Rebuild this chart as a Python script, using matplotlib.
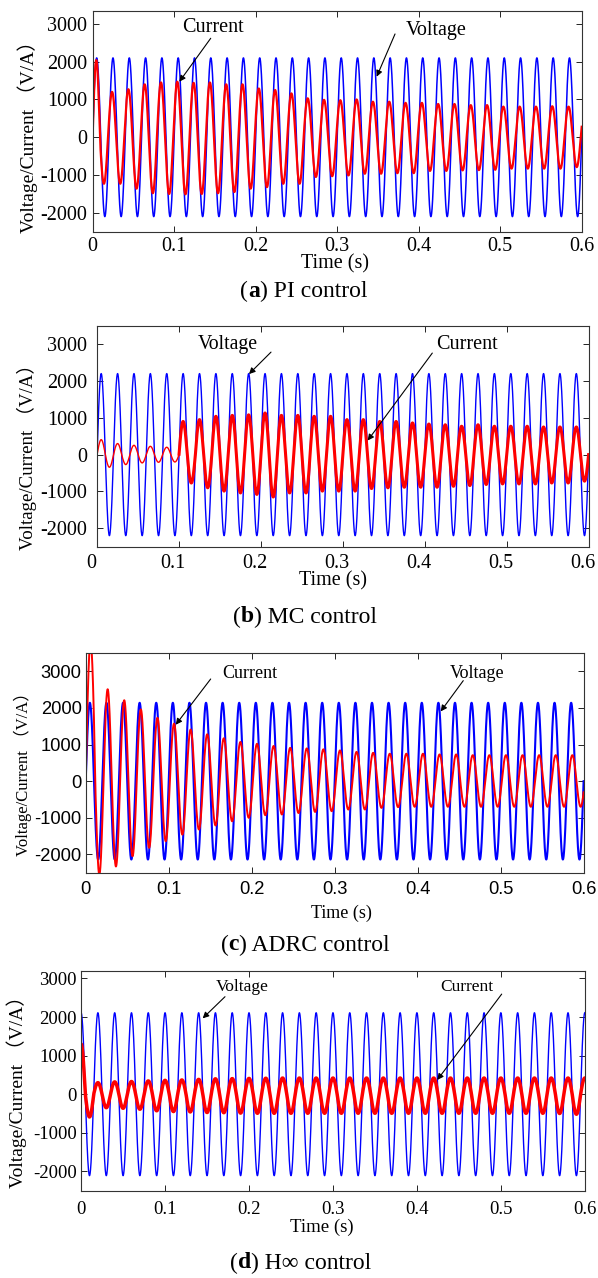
import numpy as np
import matplotlib
matplotlib.use("Agg")
import matplotlib.pyplot as plt
from matplotlib.transforms import ScaledTranslation

plt.rcParams["axes.unicode_minus"] = False

SERIF = ["Liberation Serif", "DejaVu Serif"]
SANS = ["Liberation Sans", "DejaVu Sans"]
LABEL_FONT = ["Liberation Serif", "Noto Sans CJK SC", "DejaVu Serif"]

FREQ = 50.0
T_END = 0.6
x_ticks = [0, 0.1, 0.2, 0.3, 0.4, 0.5, 0.6]
x_tick_labels = ["0", "0.1", "0.2", "0.3", "0.4", "0.5", "0.6"]
y_ticks = [-2000, -1000, 0, 1000, 2000, 3000]

# grid voltage amplitude (V) per panel
volt_amp = {"a": 2100, "b": 2200, "c": 2140, "d": 2110}

# current: positive peak / negative trough of each 50 Hz cycle (30 cycles in 0.6 s)
pi_peaks = [2040, 1200, 1270, 1400, 1450, 1470, 1440, 1450, 1400, 1400,
            1290, 1250, 1160, 1030, 990, 980, 1000, 940, 940, 910,
            910, 880, 880, 850, 850, 810, 810, 810, 820, 810]
pi_troughs = [-1230, -1230, -1360, -1480, -1500, -1510, -1500, -1480, -1450, -1360,
              -1320, -1230, -1230, -1050, -1030, -1010, -965, -965, -950, -950,
              -890, -890, -876, -870, -860, -830, -830, -830, -830, -790]

mc_peaks = [406, 300, 253, 225, 200, 900, 950, 1040, 1065, 1080,
            1130, 1065, 1065, 1040, 1040, 950, 950, 900, 900, 860,
            830, 810, 770, 810, 770, 770, 770, 750, 750, 750]
mc_troughs = [-343, -270, -225, -208, -200, -770, -900, -990, -1040, -1080,
              -1150, -1040, -1040, -990, -990, -990, -920, -900, -885, -885,
              -885, -860, -840, -810, -795, -795, -795, -770, -770, -720]

adrc_peaks = [3800, 2510, 2210, 1960, 1730, 1570, 1410, 1280, 1170, 1070,
              1020, 960, 910, 895, 870, 840, 800, 775, 750, 750,
              750, 730, 730, 710, 710, 710, 710, 710, 710, 710]
adrc_troughs = [-2550, -2330, -2050, -1820, -1640, -1460, -1320, -1210, -1095, -1000,
                -930, -910, -870, -840, -820, -775, -775, -730, -710, -700,
                -700, -700, -700, -700, -700, -700, -700, -700, -700, -700]

hinf_peaks = [1300, 300, 320, 330, 345, 360, 370, 385, 400, 405,
              410, 415, 420, 420, 420, 420, 420, 420, 420, 420,
              420, 420, 420, 420, 420, 420, 420, 420, 420, 420]
hinf_troughs = [-590, -350, -365, -390, -430, -450, -460, -475, -480, -490,
                -495, -495, -495, -495, -495, -495, -495, -495, -495, -495,
                -495, -495, -495, -495, -495, -495, -495, -495, -500, -520]

captions = {"a": "PI control", "b": "MC control", "c": "ADRC control", "d": "H\u221e control"}

W, H = 598, 1278
fig = plt.figure(figsize=(W / 100, H / 100), dpi=100)
renderer = fig.canvas.get_renderer()

t = np.linspace(0, T_END, 15001)


def current_wave(peaks, troughs, start, lead):
    theta = 2 * np.pi * FREQ * t + start + lead * np.clip(t / 0.01, 0, 1)
    half = np.floor(theta / np.pi).astype(int)
    k = np.clip(half // 2, 0, len(peaks) - 1)
    amp = np.where(half % 2 == 0, np.take(peaks, k), -np.take(troughs, k))
    return amp * np.sin(theta)


def fig_text(x, y, s, **kw):
    return fig.text(x / W, 1 - y / H, s, **kw)


def caption(xc, yc, letter, rest, size):
    parts = [("(", "normal"), (letter, "bold"), (") " + rest, "normal")]
    items = []
    for s, w in parts:
        tx = fig.text(0, 1 - yc / H, s, fontsize=size, fontweight=w, family=SERIF, va="center")
        items.append((tx, tx.get_window_extent(renderer).width))
    x0 = xc - sum(wd for _, wd in items) / 2
    for tx, wd in items:
        tx.set_x(x0 / W)
        x0 += wd


# layout in pixels: left, top, right, bottom
panels = [
    dict(key="a", box=(92.6, 10.7, 581.7, 231.7), ylim=(-2500, 3350), start=0.0, lead=0.35,
         peaks=pi_peaks, troughs=pi_troughs, vstart=0.0, tickfont=SERIF, ticksize=14.5,
         ylab=(27.4, 132.5, 14), time=(334.9, 264, 14.5), cap=(304, 291),
         cur_lw=1.6, volt_lw=1.1, xshift=0,
         notes=[("Current", (0.148, 2911), (0.1449, 2620), (0.1064, 1470), 14.5),
                ("Voltage", (0.4209, 2821), (0.371, 2734), (0.3485, 1603), 14.5)],
         ypad=4, xpad=3.5),
    dict(key="b", box=(97.1, 325.7, 588.6, 546.7), ylim=(-2500, 3500), start=0.0, lead=0.0,
         peaks=mc_peaks, troughs=mc_troughs, vstart=0.0, tickfont=SERIF, ticksize=14.5,
         ylab=(27.4, 452.5, 13.6), time=(333.3, 581, 14.5), cap=(305, 617),
         cur_lw=2.2, volt_lw=1.0, xshift=-6,
         notes=[("Voltage", (0.1594, 2980), (0.2123, 2783), (0.1854, 2187), 14.2),
                ("Current", (0.4512, 2980), (0.4092, 2757), (0.3303, 382), 14.5)],
         ypad=7, xpad=5.5),
    dict(key="c", box=(85.7, 653, 583.6, 872.7), ylim=(-2500, 3500), start=0.0, lead=-0.45,
         peaks=adrc_peaks, troughs=adrc_troughs, vstart=0.0, tickfont=SANS, ticksize=13.2,
         ylab=(22.9, 770.5, 12), time=(341, 913, 13), cap=(305, 945),
         cur_lw=1.4, volt_lw=1.5, xshift=0,
         notes=[("Current", (0.1976, 2953), (0.1506, 2790), (0.1085, 1541), 13),
                ("Voltage", (0.4719, 2953), (0.455, 2745), (0.4278, 1905), 13)],
         ypad=3, xpad=6),
    dict(key="d", box=(81.1, 970.7, 584.8, 1190.7), ylim=(-2500, 3200), start=np.pi / 2, lead=0.0,
         peaks=hinf_peaks, troughs=hinf_troughs, vstart=np.pi / 2, tickfont=SERIF, ticksize=13.5,
         ylab=(17.1, 1087.5, 14), time=(322, 1227, 13.5), cap=(300.6, 1263),
         cur_lw=2.5, volt_lw=1.0, xshift=0,
         notes=[("Voltage", (0.192, 2767), (0.1714, 2526), (0.1448, 1965), 12.5),
                ("Current", (0.46, 2767), (0.501, 2594), (0.4243, 370), 12.5)],
         ypad=3, xpad=7.5),
]

for p in panels:
    l, tp, r, b = p["box"]
    ax = fig.add_axes([l / W, 1 - b / H, (r - l) / W, (b - tp) / H])
    volt = volt_amp[p["key"]] * np.sin(2 * np.pi * FREQ * t + p["vstart"])
    cur = current_wave(p["peaks"], p["troughs"], p["start"], p["lead"])
    ax.plot(t, volt, color="#0000ff", lw=p["volt_lw"])
    if p["key"] == "b":
        early = t <= 0.1
        ax.plot(t[early], cur[early], color="#ff0000", lw=1.0)
        ax.plot(t[~early], cur[~early], color="#ff0000", lw=p["cur_lw"])
    else:
        ax.plot(t, cur, color="#ff0000", lw=p["cur_lw"])
    ax.set_xlim(0, T_END)
    ax.set_ylim(*p["ylim"])
    ax.set_xticks(x_ticks)
    ax.set_xticklabels(x_tick_labels)
    ax.set_yticks(y_ticks)
    ax.tick_params(direction="in", top=True, right=True, length=4, width=0.6,
                   labelsize=p["ticksize"], labelfontfamily=p["tickfont"][0])
    ax.tick_params(axis="y", pad=p["ypad"])
    ax.tick_params(axis="x", pad=p["xpad"])
    if p["xshift"]:
        offset = ScaledTranslation(p["xshift"] / 100, 0, fig.dpi_scale_trans)
        for lab in ax.get_xticklabels():
            lab.set_transform(lab.get_transform() + offset)
    for sp in ax.spines.values():
        sp.set_linewidth(0.8)
        sp.set_color("#333333")
    for label, txt, tail, head, size in p["notes"]:
        ax.annotate("", xy=head, xytext=tail,
                    arrowprops=dict(arrowstyle="-|>", color="black", lw=0.8,
                                    mutation_scale=9, shrinkA=0, shrinkB=0))
        ax.text(txt[0], txt[1], label, ha="center", va="center", fontsize=size, family=SERIF)
    yx, yy, ys = p["ylab"]
    fig_text(yx, yy, "Voltage/Current \uff08V/A\uff09", rotation=90, ha="center", va="center",
             fontsize=ys, family=LABEL_FONT)
    tx, ty, ts = p["time"]
    fig_text(tx, ty, "Time (s)", ha="center", va="center", fontsize=ts, family=SERIF)
    caption(p["cap"][0], p["cap"][1], p["key"], captions[p["key"]], 17)

fig.savefig("out.png", dpi=100)
